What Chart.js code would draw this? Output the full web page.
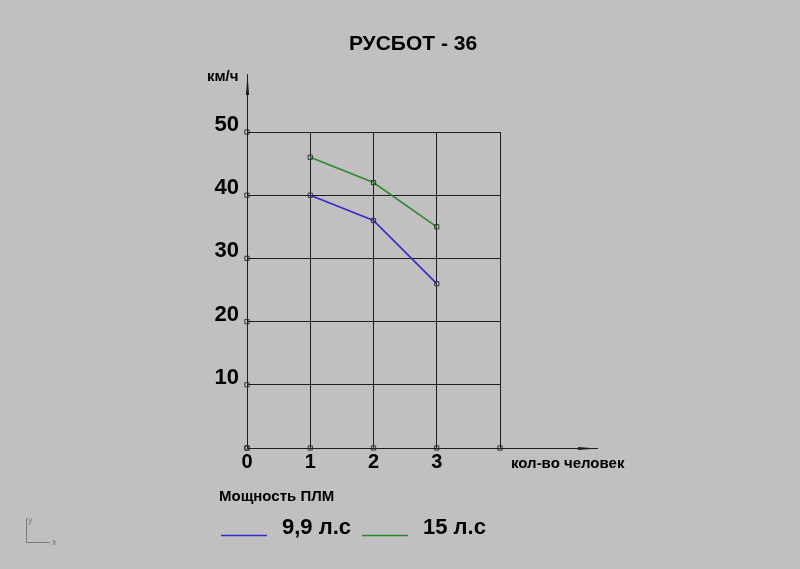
<!DOCTYPE html>
<html>
<head>
<meta charset="utf-8">
<script src="https://cdn.jsdelivr.net/npm/chart.js@4.4.0/dist/chart.umd.min.js"></script>
<style>
html,body{margin:0;padding:0;background:#c0c0c0;}
#wrap{width:800px;height:569px;position:relative;}
canvas{display:block;}
</style>
</head>
<body>
<div id="wrap"><canvas id="c" width="800" height="569"></canvas></div>
<script>
// ---- data ----
const chartTitle = 'РУСБОТ - 36';
const yAxisTitle = 'км/ч';
const xAxisTitle = 'кол-во человек';
const legendTitle = 'Мощность ПЛМ';
const seriesNames = ['9,9 л.с', '15 л.с'];
const people = [1, 2, 3];
const speed99 = [40, 36, 26];
const speed15 = [46, 42, 35];
const xTickValues = [0, 1, 2, 3, 4];
const xTickLabels = ['0', '1', '2', '3', ''];
const yTickValues = [0, 10, 20, 30, 40, 50];
const yTickLabels = ['', '10', '20', '30', '40', '50'];

const FONT = "'Liberation Sans', Arial, sans-serif";
const BLUE = '#3428d0';
const GREEN = '#2e8a2e';
const GRID = '#1e1e1e';

function legendLine(color) {
  const cv = document.createElement('canvas');
  cv.width = 50; cv.height = 24;
  const g = cv.getContext('2d');
  g.strokeStyle = color; g.lineWidth = 1.6;
  g.beginPath(); g.moveTo(0, 19.5); g.lineTo(46, 19.5); g.stroke();
  return cv;
}
const legendImgs = [legendLine(BLUE), legendLine(GREEN)];

const axisMarks = yTickValues.map(v => ({x: 0, y: v}))
  .concat(xTickValues.map(v => ({x: v, y: 0})));

const decor = {
  id: 'decor',
  afterDraw(chart) {
    const ctx = chart.ctx;
    const xs = chart.scales.x, ys = chart.scales.y;
    const x0 = Math.round(xs.getPixelForValue(0)) + 0.5;
    const y0 = Math.round(ys.getPixelForValue(0)) + 0.5;
    const ca = chart.chartArea;
    ctx.save();
    ctx.strokeStyle = GRID; ctx.fillStyle = GRID; ctx.lineWidth = 1;
    // y axis extension + arrow
    const yTop = ca.top - 58;
    ctx.beginPath(); ctx.moveTo(x0, y0); ctx.lineTo(x0, yTop); ctx.stroke();
    ctx.beginPath(); ctx.moveTo(x0, yTop); ctx.lineTo(x0 - 1.6, yTop + 21); ctx.lineTo(x0 + 1.6, yTop + 21); ctx.closePath(); ctx.fill();
    // x axis extension + arrow
    const xEnd = ca.right + 98;
    ctx.beginPath(); ctx.moveTo(x0, y0); ctx.lineTo(xEnd, y0); ctx.stroke();
    ctx.beginPath(); ctx.moveTo(xEnd, y0); ctx.lineTo(xEnd - 20, y0 - 1.6); ctx.lineTo(xEnd - 20, y0 + 1.6); ctx.closePath(); ctx.fill();
    // texts
    ctx.fillStyle = '#000';
    ctx.textBaseline = 'middle';
    ctx.textAlign = 'center';
    ctx.font = 'bold 21px ' + FONT;
    ctx.fillText(chartTitle, 413, 44);
    ctx.textAlign = 'left';
    ctx.font = 'bold 15px ' + FONT;
    ctx.fillText(yAxisTitle, 207, 77);
    ctx.fillText(xAxisTitle, 511, 464);
    ctx.fillText(legendTitle, 219, 497);
    // small UCS icon
    ctx.strokeStyle = '#7a7a7a'; ctx.fillStyle = '#7a7a7a';
    ctx.beginPath(); ctx.moveTo(26.5, 518); ctx.lineTo(26.5, 542.5); ctx.lineTo(50, 542.5); ctx.stroke();
    ctx.font = '9px ' + FONT;
    ctx.fillText('y', 28, 521);
    ctx.fillText('x', 52, 543);
    ctx.restore();
  }
};

new Chart(document.getElementById('c'), {
  type: 'line',
  data: {
    datasets: [
      {
        label: seriesNames[0],
        data: people.map((p, i) => ({x: p, y: speed99[i]})),
        borderColor: BLUE, borderWidth: 1.6, tension: 0,
        pointStyle: 'rect', pointRadius: 3, pointBorderColor: '#333', pointBorderWidth: 1,
        pointBackgroundColor: 'rgba(0,0,0,0)', clip: false
      },
      {
        label: seriesNames[1],
        data: people.map((p, i) => ({x: p, y: speed15[i]})),
        borderColor: GREEN, borderWidth: 1.6, tension: 0,
        pointStyle: 'rect', pointRadius: 3, pointBorderColor: '#333', pointBorderWidth: 1,
        pointBackgroundColor: 'rgba(0,0,0,0)', clip: false
      },
      {
        label: 'axis',
        data: axisMarks,
        showLine: false,
        pointStyle: 'rect', pointRadius: 3, pointBorderColor: '#333', pointBorderWidth: 1,
        pointBackgroundColor: 'rgba(0,0,0,0)', clip: false
      }
    ]
  },
  options: {
    responsive: false,
    animation: false,
    layout: {padding: {left: 210, top: 132, right: 0, bottom: 20}},
    plugins: {
      title: {display: false},
      tooltip: {enabled: false},
      legend: {
        display: true,
        position: 'bottom',
        align: 'start',
        labels: {
          filter: item => item.datasetIndex < 2,
          usePointStyle: true,
          pointStyleWidth: 50,
          padding: 11,
          color: '#000',
          font: {family: FONT, size: 22, weight: 'bold'},
          generateLabels(chart) {
            const items = Chart.defaults.plugins.legend.labels.generateLabels(chart);
            items.forEach(it => { if (it.datasetIndex < 2) it.pointStyle = legendImgs[it.datasetIndex]; });
            return items;
          }
        }
      }
    },
    scales: {
      x: {
        type: 'linear', position: 'bottom', min: 0, max: 4,
        afterBuildTicks(s) { s.ticks = xTickValues.map(v => ({value: v})); },
        afterFit(s) { s.height = 58; },
        ticks: {
          padding: 2, color: '#000',
          font: {family: FONT, size: 20, weight: 'bold'},
          callback: (v) => { const i = xTickValues.indexOf(v); return i >= 0 ? xTickLabels[i] : ''; }
        },
        grid: {color: GRID, lineWidth: 1, drawTicks: false},
        border: {color: GRID, width: 1}
      },
      y: {
        type: 'linear', position: 'left', min: 0, max: 50,
        afterBuildTicks(s) { s.ticks = yTickValues.map(v => ({value: v})); },
        afterFit(s) { s.width = 37; },
        ticks: {
          padding: 8, color: '#000',
          font: {family: FONT, size: 22, weight: 'bold', lineHeight: '14px'},
          callback: (v) => { const i = yTickValues.indexOf(v); const t = i >= 0 ? yTickLabels[i] : ''; return t ? [t, ''] : ''; }
        },
        grid: {color: GRID, lineWidth: 1, drawTicks: false},
        border: {color: GRID, width: 1}
      },
      yRight: {
        type: 'linear', position: 'right', display: true,
        afterFit(s) { s.width = 300; },
        ticks: {display: false},
        grid: {display: false},
        border: {display: false}
      }
    }
  },
  plugins: [decor]
});
</script>
</body>
</html>
